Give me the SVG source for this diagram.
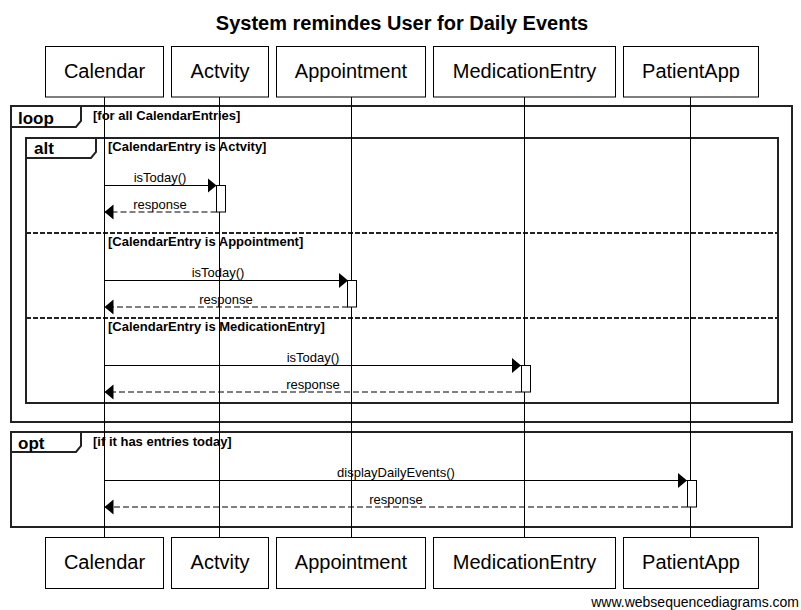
<svg xmlns="http://www.w3.org/2000/svg" width="801" height="610" viewBox="0 0 801 610">
<style>
text{font-family:"Liberation Sans",Arial,sans-serif;fill:#000}
.title{font-size:20px;font-weight:bold}
.part{font-size:20px}
.msg{font-size:13px}
.guard{font-size:13px;font-weight:bold}
.tab{font-size:17px;font-weight:bold}
.box{fill:#fff;stroke:#000;stroke-width:1}
.frame{fill:none;stroke:#222;stroke-width:2}
.sep{fill:none;stroke:#222;stroke-width:2;stroke-dasharray:5,2}
.life{stroke:#000;stroke-width:1}
.call{stroke:#000;stroke-width:1;fill:none;marker-end:url(#ah)}
.ret{stroke:#000;stroke-width:1;fill:none;stroke-dasharray:6,3;marker-end:url(#ah)}
.act{fill:#fff;stroke:#000;stroke-width:1}
</style>
<defs>
<marker id="ah" markerUnits="userSpaceOnUse" markerWidth="10" markerHeight="16" refX="9" refY="8" orient="auto">
<path d="M0,0.5 L9,8 L0,15.5 Z" fill="#000"/>
</marker>
</defs>
<rect width="801" height="610" fill="#fff"/>
<text class="title" x="402" y="30" text-anchor="middle">System remindes User for Daily Events</text>

<g id="frame-loop">
<rect class="frame" x="11" y="106" width="781" height="316"/>
<path class="frame" d="M11,106 H81 V121 L76,127 H11"/>
<text class="tab" x="18" y="123.5">loop</text>
<text class="guard" x="93" y="120">[for all CalendarEntries]</text>
</g>

<g id="frame-alt">
<rect class="frame" x="26" y="138" width="752" height="265"/>
<path class="frame" d="M26,138 H96 V152 L91,158 H26"/>
<text class="tab" x="34" y="154">alt</text>
<text class="guard" x="108" y="151">[CalendarEntry is Actvity]</text>
<line class="sep" x1="26" y1="233" x2="778" y2="233"/>
<text class="guard" x="108" y="246">[CalendarEntry is Appointment]</text>
<line class="sep" x1="26" y1="318" x2="778" y2="318"/>
<text class="guard" x="108" y="331">[CalendarEntry is MedicationEntry]</text>
</g>

<g id="frame-opt">
<rect class="frame" x="11" y="432" width="781" height="95"/>
<path class="frame" d="M11,432 H81 V446 L76,452 H11"/>
<text class="tab" x="18" y="448.5">opt</text>
<text class="guard" x="93" y="446">[if it has entries today]</text>
</g>

<g id="lifelines">
<line class="life" x1="104.5" y1="97" x2="104.5" y2="537"/>
<line class="life" x1="219.5" y1="97" x2="219.5" y2="537"/>
<line class="life" x1="351.5" y1="97" x2="351.5" y2="537"/>
<line class="life" x1="524.5" y1="97" x2="524.5" y2="537"/>
<line class="life" x1="690.5" y1="97" x2="690.5" y2="537"/>
</g>

<g id="connectors">
<line class="call" x1="104.5" y1="185.5" x2="216.5" y2="185.5"/>
<text class="msg" x="160" y="182" text-anchor="middle">isToday()</text>
<line class="ret" x1="216.5" y1="212" x2="104.5" y2="212"/>
<text class="msg" x="160" y="209" text-anchor="middle">response</text>

<line class="call" x1="104.5" y1="280.5" x2="348" y2="280.5"/>
<text class="msg" x="218" y="277" text-anchor="middle">isToday()</text>
<line class="ret" x1="348" y1="307" x2="104.5" y2="307"/>
<text class="msg" x="226" y="304" text-anchor="middle">response</text>

<line class="call" x1="104.5" y1="365.5" x2="521" y2="365.5"/>
<text class="msg" x="313" y="362" text-anchor="middle">isToday()</text>
<line class="ret" x1="521" y1="392" x2="104.5" y2="392"/>
<text class="msg" x="313" y="389" text-anchor="middle">response</text>

<line class="call" x1="104.5" y1="480.5" x2="687" y2="480.5"/>
<text class="msg" x="396" y="477" text-anchor="middle">displayDailyEvents()</text>
<line class="ret" x1="687" y1="507" x2="104.5" y2="507"/>
<text class="msg" x="396" y="504" text-anchor="middle">response</text>
</g>

<g id="activations">
<rect class="act" x="216.5" y="185.5" width="9" height="26.5"/>
<rect class="act" x="347.5" y="280.5" width="9" height="26.5"/>
<rect class="act" x="521.5" y="365.5" width="9" height="26.5"/>
<rect class="act" x="687.5" y="480.5" width="9" height="26.5"/>
</g>

<g id="p-calendar">
<rect class="box" x="45.5" y="46.5" width="118" height="50.5"/>
<text class="part" x="104.5" y="78" text-anchor="middle">Calendar</text>
<rect class="box" x="45.5" y="537.5" width="118" height="51"/>
<text class="part" x="104.5" y="569" text-anchor="middle">Calendar</text>
</g>
<g id="p-actvity">
<rect class="box" x="171.5" y="46.5" width="97" height="50.5"/>
<text class="part" x="220" y="78" text-anchor="middle">Actvity</text>
<rect class="box" x="171.5" y="537.5" width="97" height="51"/>
<text class="part" x="220" y="569" text-anchor="middle">Actvity</text>
</g>
<g id="p-appointment">
<rect class="box" x="276.5" y="46.5" width="149" height="50.5"/>
<text class="part" x="351" y="78" text-anchor="middle">Appointment</text>
<rect class="box" x="276.5" y="537.5" width="149" height="51"/>
<text class="part" x="351" y="569" text-anchor="middle">Appointment</text>
</g>
<g id="p-medication">
<rect class="box" x="433.5" y="46.5" width="182" height="50.5"/>
<text class="part" x="524.5" y="78" text-anchor="middle">MedicationEntry</text>
<rect class="box" x="433.5" y="537.5" width="182" height="51"/>
<text class="part" x="524.5" y="569" text-anchor="middle">MedicationEntry</text>
</g>
<g id="p-patientapp">
<rect class="box" x="623.5" y="46.5" width="135" height="50.5"/>
<text class="part" x="691" y="78" text-anchor="middle">PatientApp</text>
<rect class="box" x="623.5" y="537.5" width="135" height="51"/>
<text class="part" x="691" y="569" text-anchor="middle">PatientApp</text>
</g>

<text x="799" y="607" text-anchor="end" style="font-size:14px">www.websequencediagrams.com</text>
</svg>
